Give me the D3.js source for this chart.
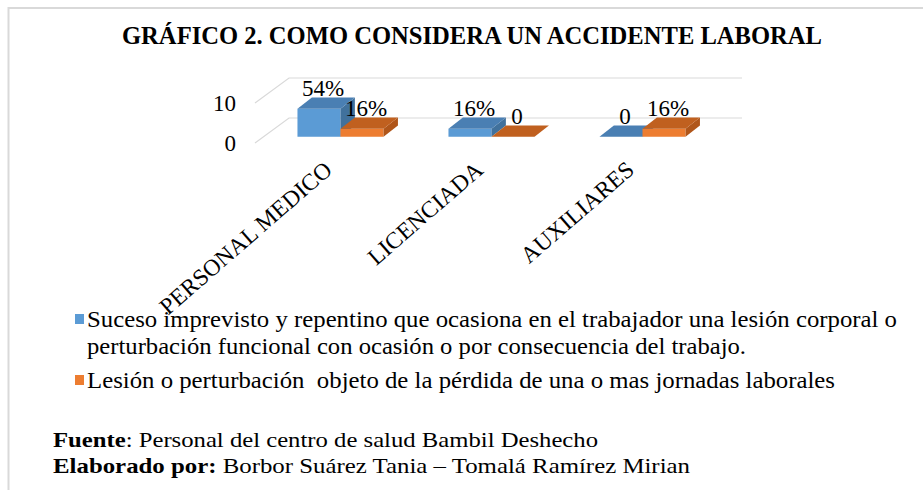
<!DOCTYPE html>
<meta charset="utf-8">
<style>
  body, html { margin:0; padding:0; background:#fff; }
  svg { display:block; }
</style>
<body>
<svg width="923" height="490"></svg>
<script src="https://d3js.org/d3.v7.min.js"></script>
<script>

// data
var categories = ["PERSONAL MEDICO", "LICENCIADA", "AUXILIARES"];
var seriesNames = [
  ["Suceso imprevisto y repentino que ocasiona en el trabajador una lesión corporal o",
   "perturbación funcional con ocasión o por consecuencia del trabajo."],
  ["Lesión o perturbación  objeto de la pérdida de una o mas jornadas laborales"]
];
var serieSuceso = [7, 2, 0];
var serieLesion = [2, 0, 2];
var labelsSuceso = ["54%", "16%", "0"];
var labelsLesion = ["16%", "0", "16%"];
var yTicks = [0, 10];
var colors = [
  {front: "#5b9bd5", top: "#4a7fb3", side: "#41719c"},
  {front: "#ed7d31", top: "#c0601f", side: "#b0561a"}
];

var svg = d3.select("svg");

function serif(sel, size) {
  return sel.style("font-family", "'Liberation Serif'").style("font-size", size + "px").style("fill", "#000");
}

// frame
svg.append("line").attr("x1", 8.5).attr("x2", 8.5).attr("y1", 7).attr("y2", 490)
  .attr("stroke", "#d9d9d9").attr("stroke-width", 2);
svg.append("line").attr("x1", 8).attr("x2", 923).attr("y1", 8).attr("y2", 8)
  .attr("stroke", "#d9d9d9").attr("stroke-width", 2);

// title
serif(svg.append("text"), 25)
  .attr("x", 472).attr("y", 44)
  .attr("text-anchor", "middle")
  .style("font-weight", "bold")
  .attr("textLength", 700).attr("lengthAdjust", "spacingAndGlyphs")
  .text("GRÁFICO 2. COMO CONSIDERA UN ACCIDENTE LABORAL");

// 3d layout
var left = 257, right = 710, base = 143;
var depth = {x: 32, y: -25};
var t0 = 0.25, t1 = 0.7;

var x = d3.scaleBand().domain(categories).range([left, right])
  .paddingInner(0.43).paddingOuter(0.215);
var xs = d3.scaleBand().domain([0, 1]).range([0, x.bandwidth()]);
var y = d3.scaleLinear().domain([0, 10]).range([base, base - 40]);

// gridlines (floor at 0 and 10)
yTicks.forEach(function(v) {
  var yy = y(v);
  svg.append("polyline")
    .attr("points", [[left - 2, yy], [left + depth.x, yy + depth.y], [right + depth.x, yy + depth.y]].join(" "))
    .attr("fill", "none").attr("stroke", "#d9d9d9").attr("stroke-width", 1.2);
  serif(svg.append("text"), 23)
    .attr("x", 236).attr("y", yy).attr("dy", "0.35em")
    .attr("text-anchor", "end")
    .text(v);
});

var series = [
  {vals: serieSuceso, labels: labelsSuceso},
  {vals: serieLesion, labels: labelsLesion}
];

var dx = (t1 - t0) * depth.x, dy = (t1 - t0) * depth.y;
var ox = t0 * depth.x, oy = t0 * depth.y;

categories.forEach(function(c, ci) {
  series.forEach(function(s, si) {
    var v = s.vals[ci];
    var col = colors[si];
    var fx = x(c) + xs(si) + ox;
    var w = xs.bandwidth();
    var yb = y(0) + oy, yt = y(v) + oy;
    var g = svg.append("g");
    if (v > 0) {
      g.append("rect").attr("x", fx).attr("y", yt).attr("width", w).attr("height", yb - yt)
        .attr("fill", col.front);
      g.append("polygon")
        .attr("points", [[fx + w, yt], [fx + w + dx, yt + dy], [fx + w + dx, yb + dy], [fx + w, yb]].join(" "))
        .attr("fill", col.side);
    }
    g.append("polygon")
      .attr("points", [[fx, yt], [fx + w, yt], [fx + w + dx, yt + dy], [fx + dx, yt + dy]].join(" "))
      .attr("fill", col.top);
  });
  // labels drawn after both bars of the category
  series.forEach(function(s, si) {
    var v = s.vals[ci];
    var fx = x(c) + xs(si) + ox;
    var w = xs.bandwidth();
    serif(svg.append("text"), 23)
      .attr("x", fx + w / 2 + 4)
      .attr("y", y(v) + oy + dy - 2)
      .attr("text-anchor", "middle")
      .text(s.labels[ci]);
  });
});

// category labels
categories.forEach(function(c) {
  var cx = x(c) + x.bandwidth() / 2;
  serif(svg.append("text"), 23.5)
    .attr("transform", "translate(" + (cx + 1) + ",172) rotate(-41)")
    .attr("text-anchor", "end")
    .text(c);
});

// legend
var leg = [
  {y: 319, lines: seriesNames[0], widths: [810, 659]},
  {y: 380, lines: seriesNames[1], widths: [748]}
];
leg.forEach(function(l, i) {
  svg.append("rect").attr("x", 75).attr("y", l.y - 5).attr("width", 9).attr("height", 10)
    .attr("fill", colors[i].front);
  l.lines.forEach(function(line, li) {
    serif(svg.append("text"), 23)
      .attr("x", 87).attr("y", l.y + 8 + li * 27)
      .style("white-space", "pre")
      .attr("textLength", l.widths[li]).attr("lengthAdjust", "spacingAndGlyphs")
      .text(line);
  });
});

// footer
var f1 = serif(svg.append("text"), 21).attr("x", 53).attr("y", 447)
  .attr("textLength", 545).attr("lengthAdjust", "spacingAndGlyphs");
f1.append("tspan").style("font-weight", "bold").text("Fuente");
f1.append("tspan").text(": Personal del centro de salud Bambil Deshecho");
var f2 = serif(svg.append("text"), 21).attr("x", 53).attr("y", 473)
  .attr("textLength", 637).attr("lengthAdjust", "spacingAndGlyphs");
f2.append("tspan").style("font-weight", "bold").text("Elaborado por:");
f2.append("tspan").text(" Borbor Suárez Tania – Tomalá Ramírez Mirian");

</script>
</body>
